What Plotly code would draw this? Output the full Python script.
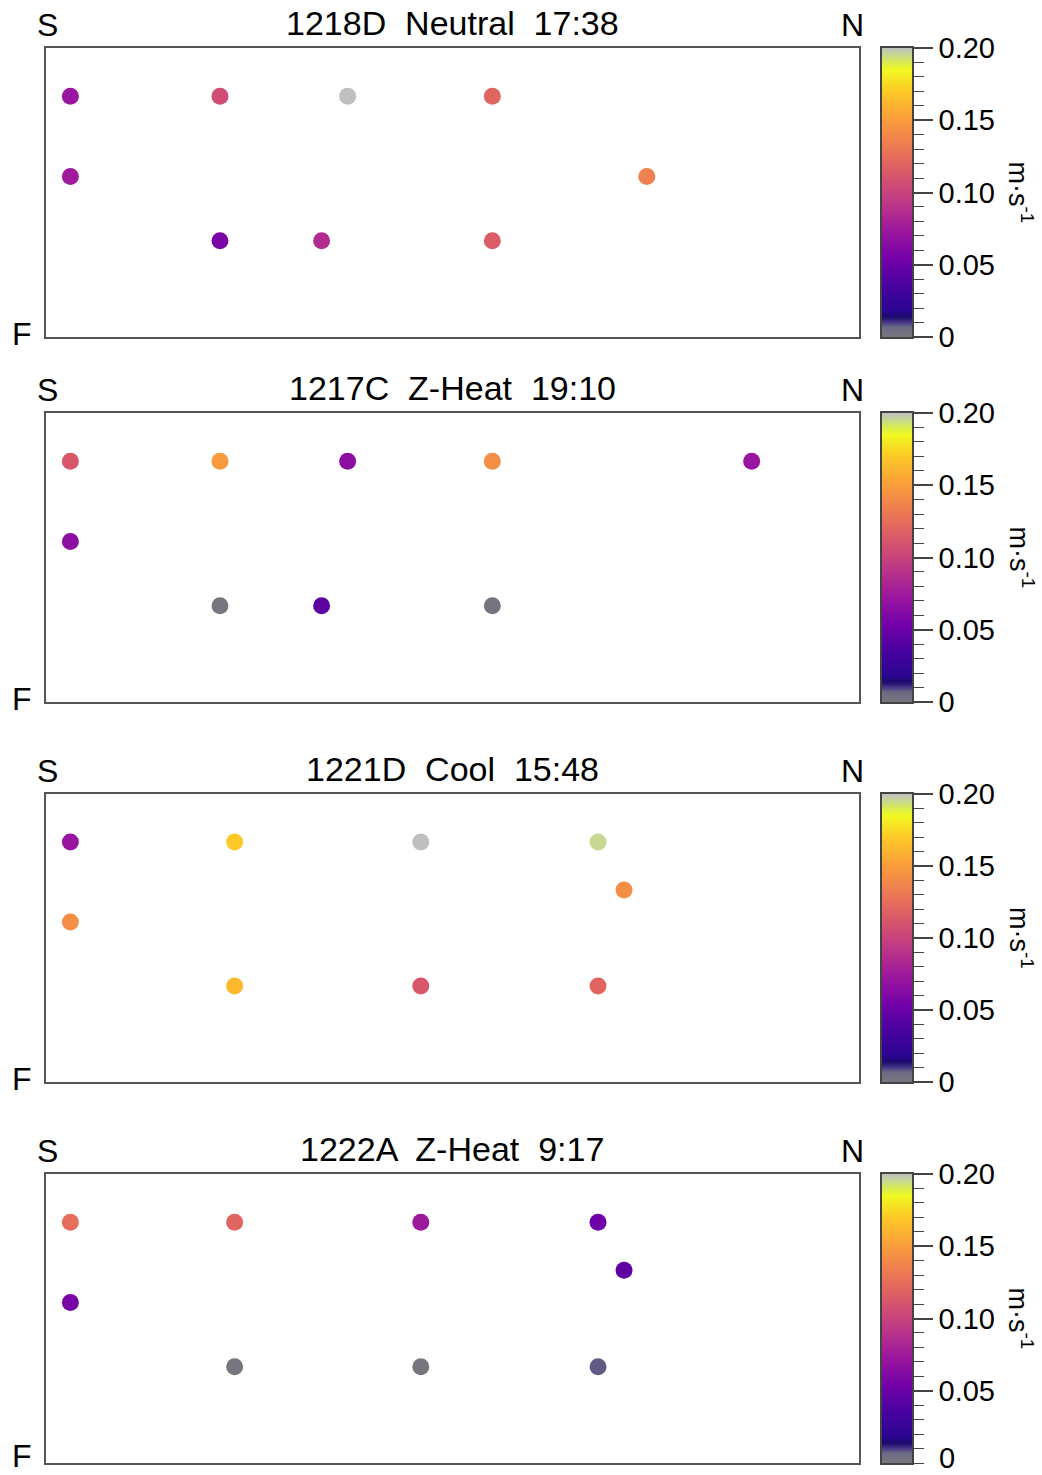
import numpy as np
import plotly.graph_objects as go

# ---------------- data ----------------
panel_titles = ["1218D  Neutral  17:38", "1217C  Z-Heat  19:10",
                "1221D  Cool  15:48", "1222A  Z-Heat  9:17"]

p1_x = [3, 21.4, 37.1, 54.9, 3, 73.9, 21.4, 33.9, 54.9]
p1_y = [1.5, 1.5, 1.5, 1.5, 1.0, 1.0, 0.6, 0.6, 0.6]
p1_v = [0.072, 0.106, 0.200, 0.120, 0.075, 0.135, 0.058, 0.086, 0.115]

p2_x = [3, 21.4, 37.1, 54.9, 86.8, 3, 21.4, 33.9, 54.9]
p2_y = [1.5, 1.5, 1.5, 1.5, 1.5, 1.0, 0.6, 0.6, 0.6]
p2_v = [0.112, 0.148, 0.065, 0.142, 0.072, 0.066, 0.000, 0.044, 0.002]

p3_x = [3, 23.2, 46.1, 67.9, 71.1, 3, 23.2, 46.1, 67.9]
p3_y = [1.5, 1.5, 1.5, 1.5, 1.2, 1.0, 0.6, 0.6, 0.6]
p3_v = [0.072, 0.170, 0.200, 0.195, 0.142, 0.142, 0.163, 0.112, 0.120]

p4_x = [3, 23.2, 46.1, 67.9, 71.1, 3, 23.2, 46.1, 67.9]
p4_y = [1.5, 1.5, 1.5, 1.5, 1.2, 1.0, 0.6, 0.6, 0.6]
p4_v = [0.125, 0.120, 0.074, 0.052, 0.045, 0.056, 0.000, 0.000, 0.008]

cbar_tickvals = [0, 0.05, 0.10, 0.15, 0.20]
cbar_ticktext = ["0", "0.05", "0.10", "0.15", "0.20"]
cbar_unit = "m·s<sup>-1</sup>"
vmin, vmax = 0.0, 0.20

# ---------------- style ----------------
W, H = 1042, 1475
FONT = "Liberation Sans, Arial, Helvetica, sans-serif"
colorscale = [
    [0.0, "#77767f"], [0.035, "#6c6a82"], [0.05, "#4a3a88"], [0.07, "#1c0a6a"],
    [0.09, "#2a0590"], [0.172, "#46039f"], [0.269, "#7201a8"], [0.367, "#9c179e"],
    [0.464, "#bd3786"], [0.561, "#d8576b"], [0.658, "#ed7953"], [0.756, "#fb9f3a"],
    [0.853, "#fdca26"], [0.925, "#f0f921"], [0.95, "#d8ec50"], [0.975, "#c8d890"],
    [1.0, "#bfbfbf"],
]

def px_x(p):
    return p / W

def py(p):
    return 1 - p / H

panel_px = [(48, 337), (413, 702), (794, 1082), (1174, 1463)]
plot_x = (46, 859)
bar_x = (882, 912)

panels = [(p1_x, p1_y, p1_v), (p2_x, p2_y, p2_v), (p3_x, p3_y, p3_v), (p4_x, p4_y, p4_v)]

fig = go.Figure()
layout = dict(width=W, height=H, margin=dict(l=0, r=0, t=0, b=0, pad=0, autoexpand=False),
              paper_bgcolor="white", plot_bgcolor="white", showlegend=False,
              font=dict(family=FONT, color="black"))
annotations = []

grad = np.linspace(vmin, vmax, 401)

for i, ((xs, ys, vs), (top, bot), title) in enumerate(zip(panels, panel_px, panel_titles)):
    k = 2 * i + 1
    kb = 2 * i + 2
    ax = "" if k == 1 else str(k)
    last = i == len(panels) - 1
    fig.add_trace(go.Scatter(
        x=xs, y=ys, mode="markers", xaxis="x" + ax, yaxis="y" + ax,
        marker=dict(size=17, color=vs, colorscale=colorscale, cmin=vmin, cmax=vmax,
                    showscale=False, line=dict(width=0)),
        hoverinfo="skip"))
    fig.add_trace(go.Heatmap(
        x=[0, 1], y=grad, z=[[v, v] for v in grad], xaxis="x" + str(kb), yaxis="y" + str(kb),
        colorscale=colorscale, zmin=vmin, zmax=vmax, showscale=False, hoverinfo="skip"))
    dom_y = [py(bot), py(top)]
    layout["xaxis" + ax] = dict(domain=[px_x(plot_x[0]), px_x(plot_x[1])], range=[0, 100],
                                showgrid=False, zeroline=False, showticklabels=False, ticks="",
                                showline=True, mirror=True, linecolor="#555555", linewidth=1.5,
                                anchor="y" + ax, automargin=False)
    layout["yaxis" + ax] = dict(domain=dom_y, range=[0, 1.8],
                                showgrid=False, zeroline=False, showticklabels=False, ticks="",
                                showline=True, mirror=True, linecolor="#555555", linewidth=1.5,
                                anchor="x" + ax, automargin=False)
    layout["xaxis" + str(kb)] = dict(domain=[px_x(bar_x[0]), px_x(bar_x[1])], range=[-0.5, 1.5],
                                     showgrid=False, zeroline=False, showticklabels=False, ticks="",
                                     showline=True, mirror=True, linecolor="#444444", linewidth=1.5,
                                     anchor="y" + str(kb), automargin=False)
    tv = cbar_tickvals[1:] if last else cbar_tickvals
    tt = cbar_ticktext[1:] if last else cbar_ticktext
    layout["yaxis" + str(kb)] = dict(domain=dom_y, range=[vmin, vmax], side="right",
                                     anchor="x" + str(kb), automargin=False,
                                     showgrid=False, zeroline=False,
                                     showline=True, mirror=True, linecolor="#444444", linewidth=1.5,
                                     tickmode="array", tickvals=tv, ticktext=tt,
                                     ticks="outside", ticklen=19, tickwidth=1.5, tickcolor="#444444",
                                     tickfont=dict(size=29, family=FONT, color="black"),
                                     minor=dict(dtick=0.01, tick0=0, ticks="outside", ticklen=10,
                                                tickwidth=1.2, tickcolor="#444444", showgrid=False))
    if last:
        # the bottom label would overflow the page, so place it explicitly
        annotations.append(dict(text=cbar_ticktext[0], x=px_x(938), y=0,
                                xref="paper", yref="paper", showarrow=False,
                                xanchor="left", yanchor="bottom", borderpad=0,
                                font=dict(size=29, family=FONT)))
    # title
    annotations.append(dict(text=title.replace("  ", " \u00a0"), x=px_x(452), y=py(top - 25),
                            xref="paper", yref="paper", showarrow=False,
                            xanchor="center", yanchor="middle", font=dict(size=34, family=FONT)))
    annotations.append(dict(text="S", x=px_x(47), y=py(top - 23), xref="paper", yref="paper",
                            showarrow=False, xanchor="center", yanchor="middle",
                            font=dict(size=32, family=FONT)))
    annotations.append(dict(text="N", x=px_x(852), y=py(top - 23), xref="paper", yref="paper",
                            showarrow=False, xanchor="center", yanchor="middle",
                            font=dict(size=32, family=FONT)))
    annotations.append(dict(text="F", x=px_x(22), y=py(bot - (7 if last else 3)),
                            xref="paper", yref="paper",
                            showarrow=False, xanchor="center", yanchor="middle",
                            font=dict(size=32, family=FONT)))
    annotations.append(dict(text=cbar_unit, x=px_x(1021), y=py((top + bot) / 2),
                            xref="paper", yref="paper", showarrow=False, textangle=90,
                            xanchor="center", yanchor="middle", font=dict(size=27, family=FONT)))

layout["annotations"] = annotations
fig.update_layout(**layout)
fig.write_html("out.html")
